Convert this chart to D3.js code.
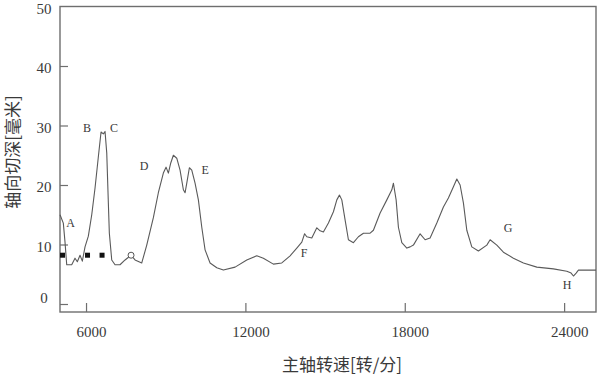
<!DOCTYPE html>
<html>
<head>
<meta charset="utf-8">
<script src="https://cdn.jsdelivr.net/npm/d3@7/dist/d3.min.js"></script>
<style>
  html, body { margin: 0; padding: 0; background: #fff; }
  svg { display: block; }
</style>
</head>
<body>
<svg id="chart" width="600" height="376"></svg>
<script>
// ---- data ----
const speed = [5021, 5145, 5209, 5273, 5461, 5585, 5672, 5774, 5861, 5962, 6087, 6215, 6339, 6463, 6565, 6652, 6716, 6780, 6840, 6878, 6968, 7092, 7280, 7469, 7695, 7845, 8098, 8286, 8535, 8723, 8911, 9013, 9100, 9190, 9288, 9416, 9540, 9665, 9729, 9793, 9891, 9981, 10105, 10230, 10358, 10482, 10670, 10923, 11171, 11612, 12052, 12429, 12677, 13054, 13370, 13683, 13935, 14124, 14229, 14312, 14500, 14689, 14813, 14937, 15126, 15314, 15442, 15540, 15630, 15755, 15879, 16067, 16255, 16444, 16696, 16820, 17072, 17325, 17513, 17573, 17675, 17761, 17889, 18078, 18202, 18326, 18578, 18766, 18954, 19207, 19455, 19643, 19832, 19960, 20084, 20208, 20336, 20524, 20773, 21089, 21213, 21466, 21714, 22091, 22468, 22972, 23597, 24101, 24263, 24350, 24452, 24538, 25200];
const depth = [15.0, 13.6, 10.4, 6.6, 6.6, 7.7, 7.1, 8.2, 7.2, 9.6, 11.4, 15.0, 19.5, 24.7, 28.9, 28.6, 29.0, 25.4, 17.0, 11.9, 7.4, 6.6, 6.6, 7.4, 8.2, 7.4, 6.9, 9.9, 14.5, 18.7, 22.0, 23.0, 22.0, 23.7, 25.0, 24.5, 22.5, 19.2, 18.7, 20.3, 22.9, 22.5, 20.3, 17.5, 12.9, 9.1, 6.9, 6.1, 5.7, 6.2, 7.4, 8.1, 7.7, 6.7, 6.9, 8.1, 9.4, 10.4, 11.8, 11.3, 11.1, 12.8, 12.3, 12.1, 13.6, 15.5, 17.5, 18.3, 17.5, 14.1, 10.8, 10.3, 11.3, 11.9, 11.9, 12.4, 15.3, 17.5, 19.2, 20.3, 17.5, 12.9, 10.3, 9.4, 9.6, 9.9, 11.8, 10.8, 11.1, 13.6, 16.3, 17.8, 19.7, 21.0, 20.0, 17.0, 12.4, 9.6, 8.9, 9.9, 10.8, 9.9, 8.7, 7.7, 6.9, 6.2, 5.9, 5.5, 5.2, 4.7, 5.2, 5.7, 5.7];

const squareX = [5115, 6056, 6603];
const squareY = [8.2, 8.2, 8.2];
const circleX = [7695];
const circleY = [8.2];

const labelText = ["A", "B", "C", "D", "E", "F", "G", "H"];
const labelX = [5415, 6038, 7054, 8184, 10482, 14210, 21890, 24112];
const labelY = [13.6, 29.6, 29.6, 23.2, 22.5, 8.6, 12.8, 3.2];

const xTicks = [6000, 12000, 18000, 24000];
const yTicks = [0, 10, 20, 30, 40, 50];
const xTitle = "主轴转速[转/分]";
const yTitle = "轴向切深[毫米]";

(function () {
// ---- layout ----
const svg = d3.select("#chart");
const mLeft = 60, mRight = 596, mTop = 6.5, mBottom = 312;
const x = d3.scaleLinear().domain([5020, 25200]).range([mLeft, mRight]);
const y = d3.scaleLinear().domain([0, 50]).range([304, mTop]);
const frameColor = "#6e6e6e";
const textColor = "#3a3a3a";
const serif = "'Liberation Serif', 'DejaVu Serif', serif";
const cjk = "'Noto Sans CJK SC', sans-serif";

// frame
svg.append("rect")
  .attr("x", mLeft).attr("y", mTop)
  .attr("width", mRight - mLeft).attr("height", mBottom - mTop)
  .attr("fill", "none").attr("stroke", frameColor).attr("stroke-width", 1.4);

// y axis
const yAxis = d3.axisLeft(y).tickValues(yTicks).tickSize(-8).tickPadding(10).tickFormat(d3.format("d"));
const gy = svg.append("g").attr("transform", `translate(${mLeft},0)`).call(yAxis);
gy.select(".domain").remove();
gy.selectAll(".tick line").attr("stroke", frameColor).attr("stroke-width", 1.2);
gy.selectAll(".tick text")
  .attr("fill", textColor).attr("font-family", serif).attr("font-size", 15)
  .attr("text-anchor", "middle").attr("x", -16)
  .attr("dy", d => d === 0 ? "-0.1em" : "0.45em");
gy.selectAll(".tick").filter(d => d === 50).select("line").remove();

// x axis
const xAxis = d3.axisBottom(x).tickValues(xTicks).tickSize(-9).tickPadding(14).tickFormat(d3.format("d"));
const gx = svg.append("g").attr("transform", `translate(0,${mBottom})`).call(xAxis);
gx.select(".domain").remove();
gx.selectAll(".tick line").attr("stroke", frameColor).attr("stroke-width", 1.2);
gx.selectAll(".tick text")
  .attr("fill", textColor).attr("font-family", serif).attr("font-size", 15)
  .attr("dx", 5);

// curve
const pts = speed.map((s, i) => [s, depth[i]]);
svg.append("path")
  .datum(pts)
  .attr("fill", "none").attr("stroke", "#5a5a5a").attr("stroke-width", 1.1)
  .attr("stroke-linejoin", "round")
  .attr("d", d3.line().x(d => x(d[0])).y(d => y(d[1])));

// markers
svg.selectAll("rect.sq").data(squareX.map((v, i) => [v, squareY[i]])).join("rect")
  .attr("class", "sq")
  .attr("x", d => x(d[0]) - 2.5).attr("y", d => y(d[1]) - 2.5)
  .attr("width", 5).attr("height", 5).attr("fill", "#111");
svg.selectAll("circle.oc").data(circleX.map((v, i) => [v, circleY[i]])).join("circle")
  .attr("class", "oc")
  .attr("cx", d => x(d[0])).attr("cy", d => y(d[1])).attr("r", 3)
  .attr("fill", "#fff").attr("stroke", "#555").attr("stroke-width", 1);

// point labels
svg.selectAll("text.lbl").data(labelText.map((t, i) => [t, labelX[i], labelY[i]])).join("text")
  .attr("class", "lbl")
  .attr("x", d => x(d[1])).attr("y", d => y(d[2]))
  .attr("text-anchor", "middle").attr("dominant-baseline", "central")
  .attr("font-family", serif).attr("font-size", 12).attr("fill", textColor)
  .text(d => d[0]);

// axis titles
svg.append("text")
  .attr("x", 342).attr("y", 363)
  .attr("text-anchor", "middle").attr("dominant-baseline", "central")
  .attr("font-family", cjk).attr("font-size", 17).attr("fill", textColor)
  .text(xTitle);
svg.append("text")
  .attr("transform", "translate(11,152) rotate(-90)")
  .attr("text-anchor", "middle").attr("dominant-baseline", "central")
  .attr("font-family", cjk).attr("font-size", 17).attr("fill", textColor)
  .text(yTitle);
})();
</script>
</body>
</html>
